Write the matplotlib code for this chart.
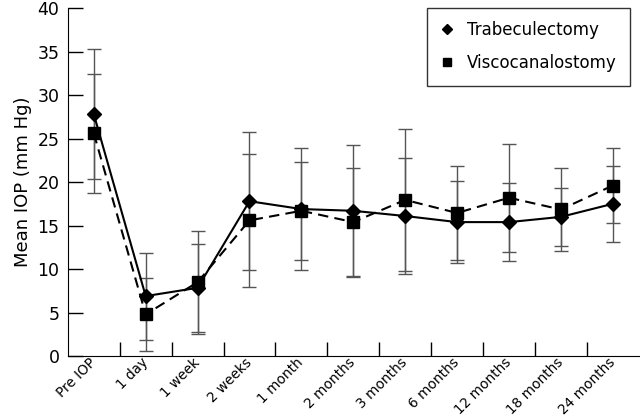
import numpy as np
import matplotlib
matplotlib.use("Agg")
from matplotlib import pyplot as plt
from matplotlib.ticker import FixedLocator

plt.rcParams['font.family'] = ['DejaVu Sans']

labels = ["Pre IOP", "1 day", "1 week", "2 weeks", "1 month", "2 months",
          "3 months", "6 months", "12 months", "18 months", "24 months"]
trab     = [27.8, 6.9, 7.85, 17.8, 16.9, 16.7, 16.1, 15.4, 15.4, 16.0, 17.5]
trab_sd  = [7.5, 5.0, 5.05, 7.9, 7.0, 7.6, 6.7, 4.7, 4.45, 3.3, 4.4]
visco    = [25.6, 4.8, 8.5, 15.6, 16.7, 15.4, 17.95, 16.45, 18.2, 16.85, 19.6]
visco_sd = [6.8, 4.2, 5.9, 7.6, 5.6, 6.2, 8.2, 5.35, 6.2, 4.75, 4.3]

x = np.arange(len(labels))

fig = plt.figure(figsize=(6.4, 4.2), dpi=100)
ax = fig.add_axes([0.106, 0.152, 0.892, 0.829])

ebkw = dict(ecolor="#555555", elinewidth=1.0, capsize=5, capthick=1.0)
ax.errorbar(x, trab, yerr=trab_sd, fmt="none", zorder=1, **ebkw)
ax.errorbar(x, visco, yerr=visco_sd, fmt="none", zorder=1, **ebkw)
ax.plot(x, trab, "-", color="black", lw=1.5, marker="D", ms=7, zorder=3,
        label="Trabeculectomy")
ax.plot(x, visco, "--", color="black", lw=1.5, marker="s", ms=8, zorder=2,
        dashes=(5, 3), label="Viscocanalostomy")

ax.set_xlim(-0.5, len(labels) - 0.5)
ax.set_ylim(0, 40)
ax.set_yticks(np.arange(0, 41, 5))
ax.set_xticks(x)
ax.set_xticklabels(labels, rotation=45, ha="right", va="center",
                   rotation_mode="anchor", fontsize=9.8)
ax.xaxis.set_minor_locator(FixedLocator(np.arange(0.5, len(labels) - 1, 1)))
ax.tick_params(axis="x", which="major", length=0, pad=3)
ax.tick_params(axis="x", which="minor", direction="in", length=10, width=1)
ax.tick_params(axis="y", direction="in", length=11, width=1, labelsize=12.5,
               pad=6)
ax.set_ylabel("Mean IOP (mm Hg)", fontsize=13, labelpad=4)

ax.spines["top"].set_visible(False)
ax.spines["right"].set_visible(False)

leg = ax.legend(loc="upper right", fontsize=12, frameon=True, fancybox=False,
                edgecolor="black", markerscale=0.7, handlelength=0.8,
                borderpad=0.8, labelspacing=0.9, borderaxespad=0,
                bbox_to_anchor=(0.985, 1.0))
leg.get_frame().set_linewidth(1.0)
for h in leg.legend_handles:
    h.set_linestyle("none")

fig.savefig("out.png", dpi=100)
